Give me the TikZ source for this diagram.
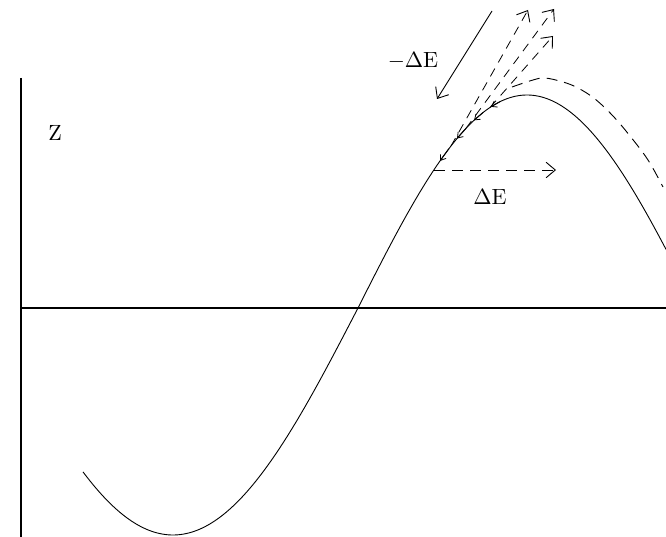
\documentclass[tikz,border=0pt]{standalone}
\usetikzlibrary{arrows.meta}
\begin{document}
\begin{tikzpicture}[x=1pt,y=-1pt,
  declare function={cr(\t)=308-213*sin((\t-358)/169*90);},
  axisline/.style={line width=1.1pt},
  curveline/.style={line width=0.9pt},
  dashline/.style={line width=0.9pt,dash pattern=on 11pt off 7pt},
  fanline/.style={line width=0.8pt,dash pattern=on 9pt off 7pt},
  openarrow/.style={-{Straight Barb[angle=80:12pt,line width=0.9pt]}},
  smallarrow/.style={-{Straight Barb[angle=70:6pt,line width=0.8pt]}},
  lbl/.style={inner sep=0pt}]
\useasboundingbox (0,0) rectangle (666,537);
% axes
\coordinate (ytop) at (21,78);
\coordinate (ybot) at (21,537);
\coordinate (xl) at (21,308);
\coordinate (xr) at (666,308);
\draw[axisline] (ytop) -- (ybot);
\draw[axisline] (xl) -- (xr);
% solid curve
\draw[curveline] plot[domain=83:358,samples=120] (\x,{308+227*sin((358-\x)/185*90)})
  -- plot[domain=358:666,samples=160] (\x,{cr(\x)});
% dashed curve
\draw[dashline] plot[smooth,tension=0.6] coordinates {(512,87) (533,80) (545,78) (563,82) (578,88) (595,99) (613,116) (630,136) (648,160) (663,187)};
% labels
\node[lbl] (z) at (55,133) {\scalebox{2.2}{Z}};
\node[lbl] (mde) at (413,61) {\scalebox{2.2}{$-\Delta\mathrm{E}$}};
\node[lbl] (de) at (490,197) {\scalebox{2.2}{$\Delta\mathrm{E}$}};
% -Delta E arrow
\coordinate (a1s) at (492,11);
\coordinate (a1e) at (437,99);
\draw[curveline,openarrow] (a1s) -- (a1e);
% Delta E dashed horizontal arrow
\coordinate (p0) at (434,170);
\coordinate (p0e) at (556,170);
\draw[dashline,openarrow] (p0) -- (p0e);
% fan of dashed arrows
\coordinate (fa) at (451,{cr(451)});
\coordinate (fae) at (528,10);
\coordinate (fb) at (466,{cr(466)});
\coordinate (fbe) at (554,9);
\coordinate (fc) at (490,{cr(490)});
\coordinate (fce) at (553,36);
\draw[fanline,openarrow] (fa) -- (fae);
\draw[fanline,openarrow] (fb) -- (fbe);
\draw[fanline,openarrow] (fc) -- (fce);
% small arrows along the curve
\foreach \t in {440,457,474,491}{
  \coordinate (s1) at ({\t+9},{cr(\t+9)});
  \coordinate (s2) at (\t,{cr(\t)});
  \draw[curveline,smallarrow] (s1) -- (s2);
}
\end{tikzpicture}
\end{document}
